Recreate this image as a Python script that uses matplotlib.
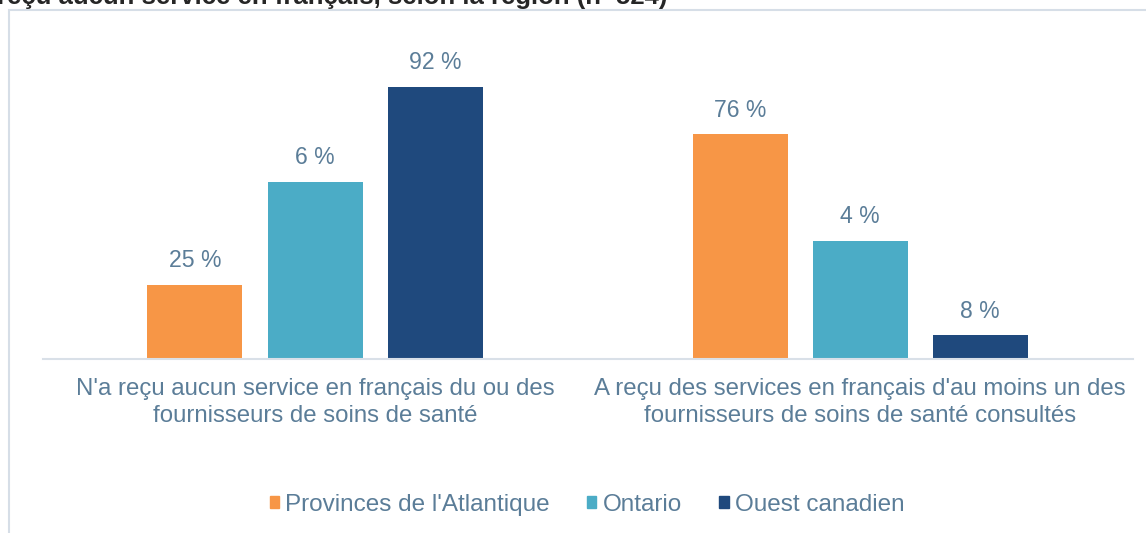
import matplotlib
matplotlib.use("Agg")
import matplotlib.pyplot as plt
import matplotlib.patches as mpatches
import numpy as np

# ---- data ----
categories = ["N'a reçu aucun service en français du ou des\nfournisseurs de soins de santé",
              "A reçu des services en français d'au moins un des\nfournisseurs de soins de santé consultés"]
series_names = ["Provinces de l'Atlantique", "Ontario", "Ouest canadien"]
atlantique = [25, 76]
ontario = [60, 40]
ouest = [92, 8]
atlantique_labels = ["25 %", "76 %"]
ontario_labels = ["6 %", "4 %"]
ouest_labels = ["92 %", "8 %"]
title_text = "reçu aucun service en français, selon la région (n=524)"

colors = ["#F79646", "#4BACC6", "#1F497D"]
text_color = "#5B7D98"

plt.rcParams['font.family'] = ['Liberation Sans', 'DejaVu Sans']

W, H = 1146, 533
fig = plt.figure(figsize=(W / 100, H / 100), dpi=100)

# frame
frame = mpatches.Rectangle((8.5 / W, -0.1), 1.2, 1 - 10.5 / H + 0.1, transform=fig.transFigure,
                           fill=False, edgecolor="#D6DEE7", linewidth=1.5, zorder=0)
fig.patches.append(frame)

# title (cut off at top, as in the reference)
fig.text(-3 / W, 1 - 4 / H, title_text, fontsize=18.5, fontweight='bold', color="#262626",
         va='baseline', ha='left')

left, right = 42.5, 1132.5
base, top = 359, 63.3
ax = fig.add_axes([left / W, (H - base) / H, (right - left) / W, (base - top) / H])
ax.set_xlim(-0.5, 1.5)
ax.set_ylim(0, 100)

x = np.arange(len(categories))
step = 120 / 545
width = 95 / 545
all_vals = [atlantique, ontario, ouest]
all_labels = [atlantique_labels, ontario_labels, ouest_labels]
handles = []
for i, (vals, labs) in enumerate(zip(all_vals, all_labels)):
    pos = x + (i - 1) * step
    ax.bar(pos, vals, width=width, color=colors[i], zorder=2)
    handles.append(mpatches.Patch(color=colors[i], label=series_names[i]))
    for p, v, l in zip(pos, vals, labs):
        ax.annotate(l, (p, v), xytext=(0, 12.7), textcoords='offset points',
                    ha='center', va='baseline', fontsize=16.6, color=text_color)

for s in ['top', 'right', 'left']:
    ax.spines[s].set_visible(False)
ax.spines['bottom'].set_color("#D9E0E8")
ax.spines['bottom'].set_linewidth(1.5)
ax.set_yticks([])
ax.set_xticks(x)
ax.set_xticklabels(categories, fontsize=17.3, color=text_color, linespacing=1.27)
ax.tick_params(axis='x', length=0, pad=14)

fig.legend(handles=handles, loc='center', bbox_to_anchor=(587 / W, 1 - 505 / H), ncol=3,
           frameon=False, fontsize=17.5, handlelength=0.38, handleheight=0.38,
           handletextpad=0.25, columnspacing=1.55, labelcolor=text_color)

fig.savefig("out.png", dpi=100)
